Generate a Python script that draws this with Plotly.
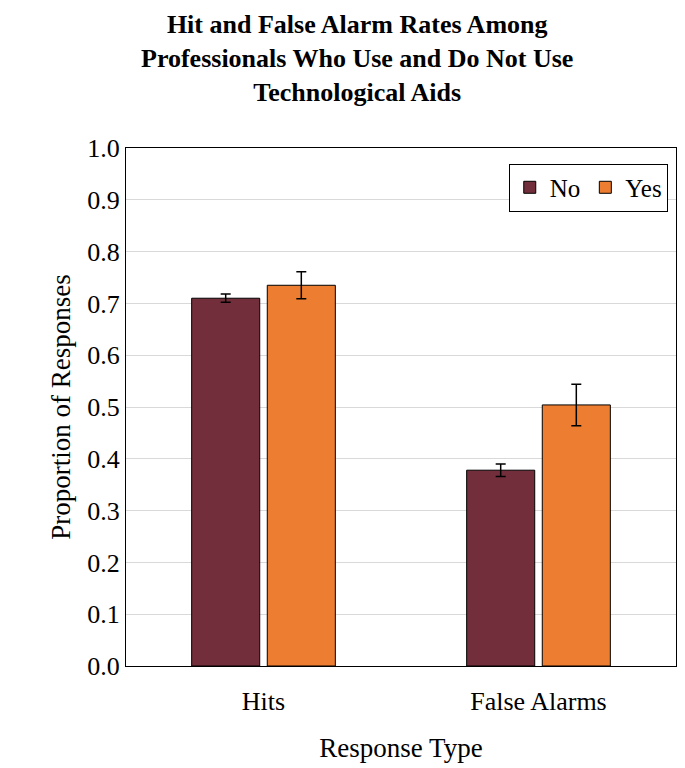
import plotly.graph_objects as go

categories = ["Hits", "False Alarms"]
no_vals = [0.710, 0.378]
no_err = [0.008, 0.012]
yes_vals = [0.735, 0.504]
yes_err = [0.026, 0.040]
y_ticks = [i / 10 for i in range(11)]
y_labels = ["%.1f" % v for v in y_ticks]

font = "Liberation Serif, Times New Roman, serif"

fig = go.Figure()
fig.add_trace(go.Bar(x=categories, y=no_vals, name="No",
                     marker=dict(color="#722F3B", line=dict(color="black", width=1)),
                     error_y=dict(type="data", array=no_err, color="black",
                                  thickness=1.5, width=5)))
fig.add_trace(go.Bar(x=categories, y=yes_vals, name="Yes",
                     marker=dict(color="#ED7D31", line=dict(color="black", width=1)),
                     error_y=dict(type="data", array=yes_err, color="black",
                                  thickness=1.5, width=5)))

# title as a paper annotation so it sits where the reference has it
fig.add_annotation(text="<b>Hit and False Alarm Rates Among<br>Professionals Who Use and Do Not Use<br>Technological Aids</b>",
                   xref="paper", yref="paper", x=0.42, y=1.0, yshift=140,
                   xanchor="center", yanchor="top", showarrow=False,
                   font=dict(size=26, family=font), align="center")

fig.update_layout(
    width=685, height=768,
    margin=dict(l=118, r=17, t=140, b=110),
    paper_bgcolor="white", plot_bgcolor="white",
    font=dict(family=font, color="black", size=26),
    barmode="group", bargap=0.45, bargroupgap=0.1,
    legend=dict(x=0.985, y=0.97, xanchor="right", yanchor="top",
                orientation="h", bordercolor="black", borderwidth=1,
                font=dict(size=25), itemwidth=30),
    xaxis=dict(title=dict(text="Response Type", font=dict(size=27), standoff=22),
               showline=True, linecolor="black", mirror=True, ticks="outside",
               ticklen=12, tickcolor="white",
               tickfont=dict(size=26)),
    yaxis=dict(title=dict(text="Proportion of Responses", font=dict(size=27), standoff=8),
               range=[0, 1.0], tickvals=y_ticks, ticktext=y_labels,
               showline=True, linecolor="black", mirror=True,
               showgrid=True, gridcolor="#d9d9d9", zeroline=False,
               tickfont=dict(size=26)),
)

fig.write_html("out.html")
